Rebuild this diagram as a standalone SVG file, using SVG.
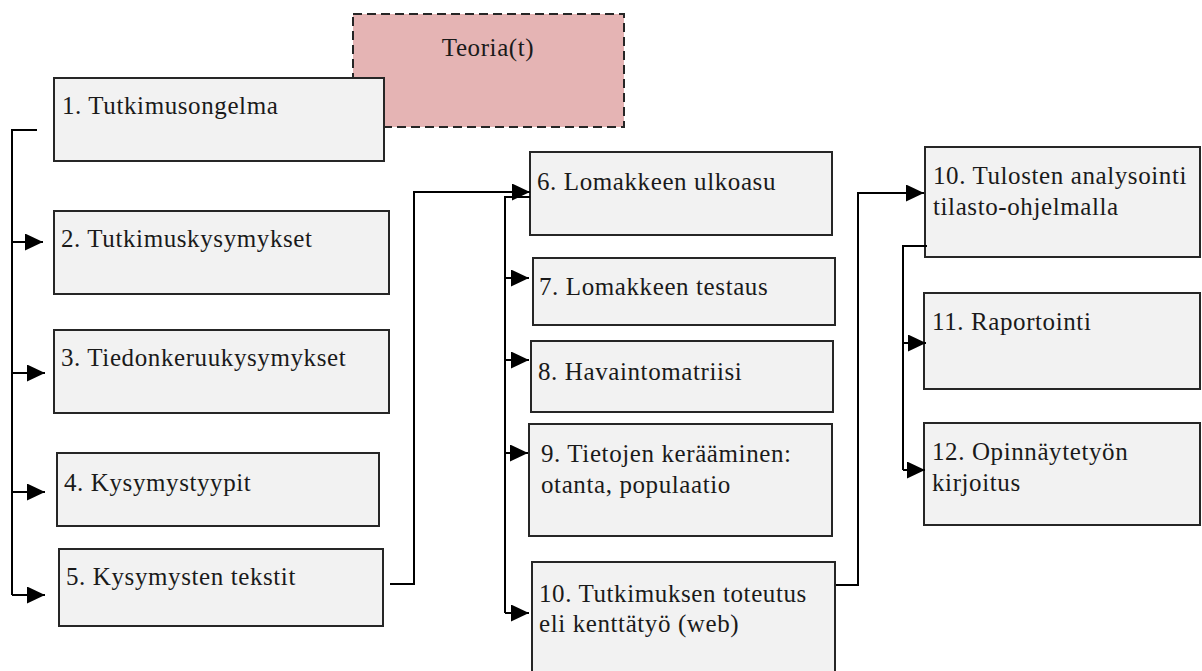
<svg xmlns="http://www.w3.org/2000/svg" width="1202" height="671" viewBox="0 0 1202 671">
<defs>
<style>
.box{fill:#f2f2f2;stroke:#262626;stroke-width:2}
.theory{fill:#e5b4b4;stroke:#262626;stroke-width:2;stroke-dasharray:9 5}
.lbl{font-family:"Liberation Serif","Times New Roman",serif;font-size:25px;letter-spacing:0.6px;fill:#1a1a1a}
.con{fill:none;stroke:#000;stroke-width:2}
</style>
<marker id="ah" markerUnits="userSpaceOnUse" markerWidth="19" markerHeight="17" refX="18" refY="8.5" orient="auto">
<path d="M0,0 L18,8.5 L0,17 z" fill="#000"/>
</marker>
</defs>
<rect width="1202" height="671" fill="#fff"/>
<g id="n-teoria">
<rect class="theory" x="353" y="14" width="271" height="113"/>
<text class="lbl" x="488" y="56" text-anchor="middle">Teoria(t)</text>
</g>
<g id="n1"><rect class="box" x="54" y="78" width="330" height="83"/><text class="lbl" x="62" y="114">1. Tutkimusongelma</text></g>
<g id="n2"><rect class="box" x="54" y="211" width="335" height="83"/><text class="lbl" x="61" y="247">2. Tutkimuskysymykset</text></g>
<g id="n3"><rect class="box" x="54" y="330" width="335" height="83"/><text class="lbl" x="61" y="366">3. Tiedonkeruukysymykset</text></g>
<g id="n4"><rect class="box" x="57" y="453" width="322" height="73"/><text class="lbl" x="64" y="491">4. Kysymystyypit</text></g>
<g id="n5"><rect class="box" x="59" y="549" width="324" height="77"/><text class="lbl" x="66" y="585">5. Kysymysten tekstit</text></g>
<g id="n6"><rect class="box" x="530" y="152" width="302" height="83"/><text class="lbl" x="537" y="190">6. Lomakkeen ulkoasu</text></g>
<g id="n7"><rect class="box" x="533" y="258" width="302" height="67"/><text class="lbl" x="539" y="295">7. Lomakkeen testaus</text></g>
<g id="n8"><rect class="box" x="531" y="341" width="302" height="71"/><text class="lbl" x="538" y="380">8. Havaintomatriisi</text></g>
<g id="n9"><rect class="box" x="529" y="424" width="303" height="112"/><text class="lbl" x="541" y="462">9. Tietojen kerääminen:</text><text class="lbl" x="541" y="493">otanta, populaatio</text></g>
<g id="n10a"><rect class="box" x="532" y="562" width="303" height="120"/><text class="lbl" x="539" y="602">10. Tutkimuksen toteutus</text><text class="lbl" x="539" y="632">eli kenttätyö (web)</text></g>
<g id="n10b"><rect class="box" x="925" y="147" width="275" height="110"/><text class="lbl" x="933" y="184">10. Tulosten analysointi</text><text class="lbl" x="933" y="215">tilasto-ohjelmalla</text></g>
<g id="n11"><rect class="box" x="924" y="293" width="276" height="96"/><text class="lbl" x="932" y="330">11. Raportointi</text></g>
<g id="n12"><rect class="box" x="924" y="423" width="276" height="102"/><text class="lbl" x="932" y="460">12. Opinnäytetyön</text><text class="lbl" x="932" y="491">kirjoitus</text></g>
<g id="connectors">
<path class="con" d="M37 130 H12 V595"/>
<path class="con" d="M12 242 H43" marker-end="url(#ah)"/>
<path class="con" d="M12 373 H45" marker-end="url(#ah)"/>
<path class="con" d="M12 492 H45" marker-end="url(#ah)"/>
<path class="con" d="M12 595 H45" marker-end="url(#ah)"/>
<path class="con" d="M390 584 H414 V192 H530" marker-end="url(#ah)"/>
<path class="con" d="M530 197 H505 V613"/>
<path class="con" d="M505 278 H529" marker-end="url(#ah)"/>
<path class="con" d="M505 360 H529" marker-end="url(#ah)"/>
<path class="con" d="M505 453 H528" marker-end="url(#ah)"/>
<path class="con" d="M505 613 H529" marker-end="url(#ah)"/>
<path class="con" d="M836 585 H858 V193 H924" marker-end="url(#ah)"/>
<path class="con" d="M927 246 H903 V470"/>
<path class="con" d="M903 343 H926" marker-end="url(#ah)"/>
<path class="con" d="M903 470 H925" marker-end="url(#ah)"/>
</g>
</svg>
